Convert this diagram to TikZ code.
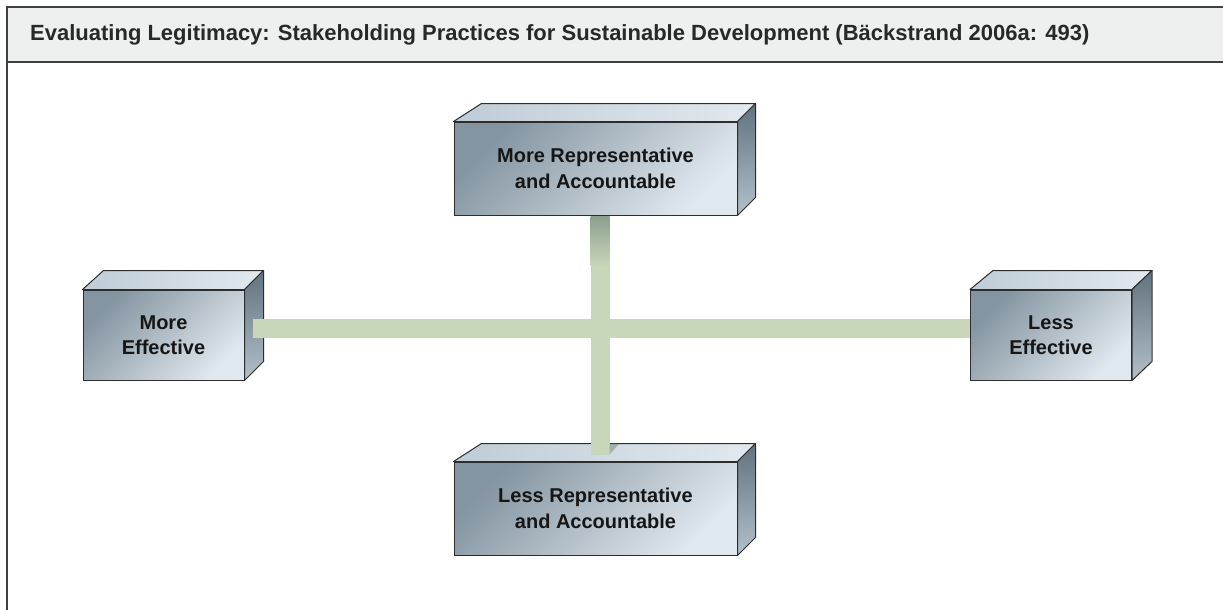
\documentclass[tikz,border=0pt]{standalone}
\usepackage{fontspec}
\setmainfont{Liberation Sans}
\usetikzlibrary{calc}
\definecolor{frameline}{RGB}{64,64,64}
\definecolor{headfill}{RGB}{238,240,239}
\definecolor{frontA}{RGB}{132,148,160}
\definecolor{frontB}{RGB}{224,232,239}
\definecolor{topA}{RGB}{190,204,215}
\definecolor{topB}{RGB}{226,233,239}
\definecolor{sideA}{RGB}{98,114,126}
\definecolor{sideB}{RGB}{178,192,202}
\definecolor{barfill}{RGB}{200,214,186}
\definecolor{barshadow}{RGB}{140,158,142}
\definecolor{edgecol}{RGB}{45,45,45}
\definecolor{txt}{RGB}{22,22,22}
\definecolor{titlecol}{RGB}{40,40,40}
\tikzset{
  cubefront/.style={draw=edgecol, line width=1pt, inner sep=0pt, align=center,
    text=txt, font=\bfseries\fontsize{20}{25.5}\selectfont,
    left color=frontA, right color=frontB, shading angle=45},
  cubetop/.style={draw=edgecol, line width=1pt, line join=round,
    left color=topA, right color=topB},
  cubeside/.style={draw=edgecol, line width=1pt, line join=round,
    top color=sideA, bottom color=sideB},
  barline/.style={draw=barfill, line width=19pt, line cap=butt},
  titletext/.style={font=\bfseries\fontsize{22}{24}\selectfont, text=titlecol, inner sep=0pt, anchor=west}
}
% name, back-left dx, back-right dx, depth
\newcommand\cubefaces[4]{%
  \path[cubetop] (#1.north west) -- ++(#2,-#4) -- ($(#1.north east)+(#3,-#4)$) -- (#1.north east) -- cycle;
  \path[cubeside] (#1.north east) -- ++(#3,-#4) -- ($(#1.south east)+(#3,-#4)$) -- (#1.south east) -- cycle;
}
\begin{document}
\begin{tikzpicture}[x=1pt,y=-1pt]
\useasboundingbox (0,0) rectangle (1223,610);
% frame and header
\fill[headfill] (7,7) rectangle (1240,62);
\draw[frameline, line width=2pt] (7,700) -- (7,7) -- (1240,7);
\draw[frameline, line width=2pt] (7,62) -- (1240,62);
\node[titletext] (title) at (30,35) {Evaluating Legitimacy: Stakeholding Practices for Sustainable Development (Bäckstrand 2006a: 493)};
% boxes
\node[cubefront, minimum width=283pt, minimum height=93pt] (mra) at (595.5,168.5) {More Representative\\and Accountable};
\cubefaces{mra}{28}{18}{18}
\node[cubefront, minimum width=161pt, minimum height=90pt] (me) at (163.5,335) {More\\Effective};
\cubefaces{me}{21}{19}{19}
\node[cubefront, minimum width=161pt, minimum height=90pt] (le) at (1051,335) {Less\\Effective};
\cubefaces{le}{23}{20}{19}
\node[cubefront, minimum width=283pt, minimum height=93pt] (lra) at (595.5,508.5) {Less Representative\\and Accountable};
\cubefaces{lra}{28}{18}{18}
% bars
\path[barline] ($(mra.south)+(4.5,0)$) -- ($(lra.north)+(4.5,-7)$);
\path[barline] ($(me.east)+(8,-6.5)$) -- ($(le.west)+(0,-6.5)$);
\shade[top color=barshadow, bottom color=barfill] ($(mra.south)+(-5,0.5)$) rectangle ($(mra.south)+(14,50)$);
\fill[barshadow!85!black, opacity=0.5] ($(lra.north)+(14,-7)$) -- ($(lra.north)+(14,-18)$) -- ($(lra.north)+(24,-18)$) -- cycle;
\end{tikzpicture}
\end{document}
